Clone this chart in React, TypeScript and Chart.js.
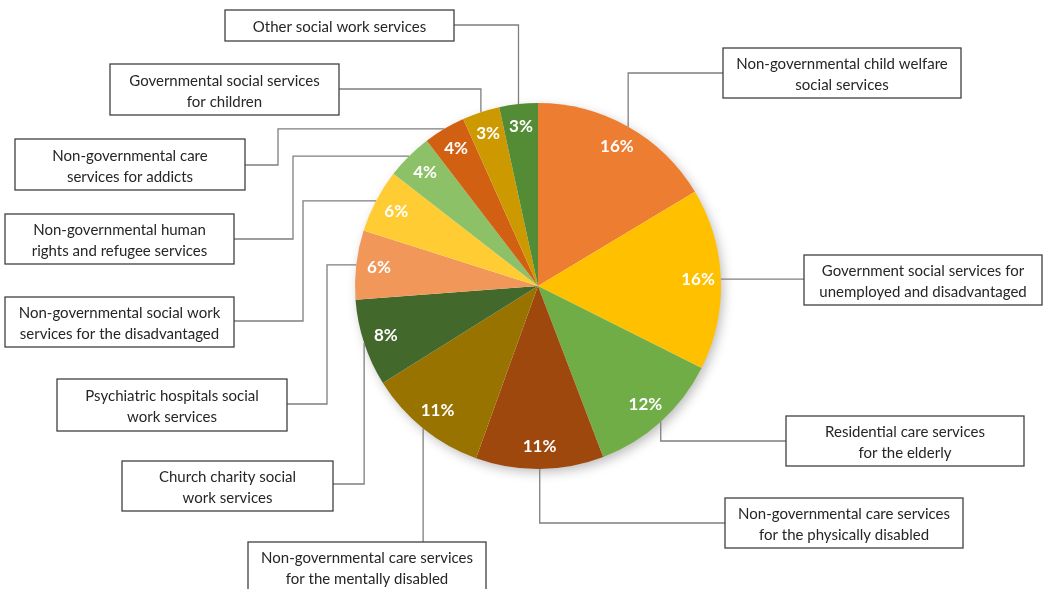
import { useEffect, useRef } from 'react';
import { Chart, registerables } from 'chart.js';

Chart.register(...registerables);

// categories, clockwise from 12 o'clock (wrapped as in the boxes)
const CATEGORIES = [
  ['Non-governmental child welfare', 'social services'],
  ['Government social services for', 'unemployed and disadvantaged'],
  ['Residential care services', 'for the elderly'],
  ['Non-governmental care services', 'for the physically disabled'],
  ['Non-governmental care services', 'for the mentally disabled'],
  ['Church charity social', 'work services'],
  ['Psychiatric hospitals social', 'work services'],
  ['Non-governmental social work', 'services for the disadvantaged'],
  ['Non-governmental human', 'rights and refugee services'],
  ['Non-governmental care', 'services for addicts'],
  ['Governmental social services', 'for children'],
  ['Other social work services'],
];
const SHARES = [16.4, 16.0, 11.8, 11.3, 10.6, 7.7, 6.1, 5.6, 4.1, 3.7, 3.3, 3.4];
const COLORS = [
  '#ED7D31', '#FFC000', '#70AD47', '#9E480E', '#997300', '#43682B',
  '#F1975A', '#FFCD33', '#8CC168', '#D26012', '#CC9A00', '#548C35',
];

// callout boxes and leader routes (layout only): steps move to x or y in turn
type Step = { x?: number; y?: number };
type Callout = { box: { x: number; y: number; w: number; h: number }; route: Step[] };
const CALLOUTS: Callout[] = [
  { box: { x: 723, y: 48, w: 238, h: 50 }, route: [{ y: 73 }, { x: 723 }] },
  { box: { x: 804, y: 255, w: 238, h: 50 }, route: [{ x: 804 }] },
  { box: { x: 786, y: 416, w: 238, h: 50 }, route: [{ y: 441 }, { x: 786 }] },
  { box: { x: 725, y: 498, w: 238, h: 50 }, route: [{ y: 523 }, { x: 725 }] },
  { box: { x: 248, y: 542, w: 238, h: 50 }, route: [{ y: 542 }] },
  { box: { x: 122, y: 461, w: 211, h: 50 }, route: [{ y: 484 }, { x: 333 }] },
  { box: { x: 57, y: 379, w: 230, h: 52 }, route: [{ x: 327 }, { y: 404 }, { x: 287 }] },
  { box: { x: 5, y: 297, w: 229, h: 50 }, route: [{ x: 303 }, { y: 321 }, { x: 234 }] },
  { box: { x: 5, y: 214, w: 229, h: 50 }, route: [{ x: 293 }, { y: 239 }, { x: 234 }] },
  { box: { x: 15, y: 139, w: 230, h: 51 }, route: [{ x: 278 }, { y: 165 }, { x: 245 }] },
  { box: { x: 110, y: 64, w: 229, h: 51 }, route: [{ y: 89 }, { x: 339 }] },
  { box: { x: 225, y: 10, w: 229, h: 31 }, route: [{ y: 25 }, { x: 454 }] },
];

const FONT = 'Lato, "Open Sans", sans-serif';
const LINE_COLOR = '#7f7f7f';
const BOX_COLOR = '#404040';
const TEXT_COLOR = '#262626';

const App = () => {
  const chartRef = useRef<HTMLCanvasElement | null>(null);

  useEffect(() => {
    if (chartRef.current === null) return () => {};
    const total = SHARES.reduce((a, b) => a + b, 0);

    const aChart = new Chart(chartRef.current, {
      type: 'pie',
      plugins: [{
        id: 'pieShadow',
        beforeDatasetsDraw(chart) {
          const { ctx } = chart;
          const arc: any = chart.getDatasetMeta(0).data[0];
          if (!arc) return;
          ctx.save();
          ctx.shadowColor = 'rgba(0,0,0,0.28)';
          ctx.shadowBlur = 12;
          ctx.shadowOffsetX = 3;
          ctx.shadowOffsetY = 4;
          ctx.fillStyle = '#ffffff';
          ctx.beginPath();
          ctx.arc(arc.x, arc.y, arc.outerRadius - 1, 0, Math.PI * 2);
          ctx.fill();
          ctx.restore();
        },
      }, {
        id: 'callouts',
        afterDatasetsDraw(chart) {
          const { ctx } = chart;
          const meta = chart.getDatasetMeta(0);
          meta.data.forEach((el: any, i) => {
            const { x, y, startAngle, endAngle, outerRadius } = el.getProps(
              ['x', 'y', 'startAngle', 'endAngle', 'outerRadius'],
            );
            const mid = (startAngle + endAngle) / 2;

            // percentage label
            const lr = outerRadius * 0.875;
            ctx.save();
            ctx.fillStyle = '#ffffff';
            ctx.font = `bold 17px ${FONT}`;
            ctx.textAlign = 'center';
            ctx.textBaseline = 'middle';
            ctx.fillText(`${Math.round((SHARES[i] / total) * 100)}%`, x + Math.cos(mid) * lr, y + Math.sin(mid) * lr);
            ctx.restore();

            // leader line
            const c = CALLOUTS[i];
            let px = x + Math.cos(mid) * outerRadius;
            let py = y + Math.sin(mid) * outerRadius;
            ctx.save();
            ctx.strokeStyle = LINE_COLOR;
            ctx.lineWidth = 1.3;
            ctx.beginPath();
            ctx.moveTo(px, py);
            c.route.forEach((s) => {
              if (s.x !== undefined) px = s.x;
              if (s.y !== undefined) py = s.y;
              ctx.lineTo(px, py);
            });
            ctx.stroke();

            // box
            const { box } = c;
            ctx.fillStyle = '#ffffff';
            ctx.fillRect(box.x, box.y, box.w, box.h);
            ctx.strokeStyle = BOX_COLOR;
            ctx.lineWidth = 1.3;
            ctx.strokeRect(box.x, box.y, box.w, box.h);

            const lines = CATEGORIES[i];
            const lh = 21;
            ctx.fillStyle = TEXT_COLOR;
            ctx.font = `15px ${FONT}`;
            ctx.textAlign = 'center';
            ctx.textBaseline = 'middle';
            const top = box.y + box.h / 2 + 2 - ((lines.length - 1) * lh) / 2;
            lines.forEach((t, k) => ctx.fillText(t, box.x + box.w / 2, top + k * lh));
            ctx.restore();
          });
        },
      }],
      data: {
        labels: CATEGORIES.map((l) => l.join(' ')),
        datasets: [{
          data: SHARES,
          backgroundColor: COLORS,
          borderWidth: 0,
        }],
      },
      options: {
        responsive: true,
        maintainAspectRatio: false,
        animation: false,
        layout: {
          padding: { top: 103, bottom: 120, left: 355, right: 322 },
        },
        plugins: {
          legend: { display: false },
          tooltip: { enabled: false },
        },
      },
    });
    return () => {
      aChart.destroy();
    };
  }, []);

  return (
    <div style={{ position: 'absolute', left: 0, top: 0, width: 1043, height: 589, background: '#fff' }}>
      <canvas ref={chartRef} />
    </div>
  );
};

export default App;
